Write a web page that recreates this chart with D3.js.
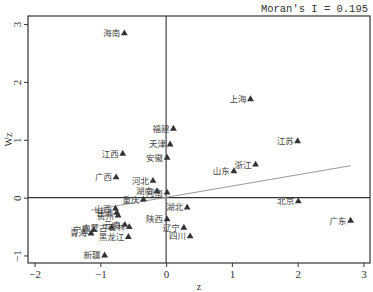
<!DOCTYPE html>
<html>
<head>
<meta charset="utf-8">
<script src="https://cdn.jsdelivr.net/npm/d3@7"></script>
<style>
  body { margin: 0; background: #fff; }
  svg { display: block; }
  .tick text { font-family: "Liberation Serif", serif; font-size: 11px; fill: #333; }
  .lbl { font-family: "Noto Sans CJK SC", sans-serif; font-size: 8.5px; fill: #444; }
</style>
</head>
<body>
<svg width="373" height="292"></svg>
<script>
const svg = d3.select('svg');

// provinces, standardized value z and spatial lag Wz
const names = ['海南','福建','天津','上海','江苏','江西','安徽','广西','河北','湖南','河南',
  '重庆','湖北','陕西','辽宁','四川','山东','浙江','北京','广东','新疆',
  '山西','甘肃','贵州','黑龙江','云南','吉林','内蒙古','宁夏','青海'];
const zVals = [-0.635, 0.111, 0.06, 1.283, 2.0, -0.66, 0.015, -0.76, -0.2, -0.14, 0.015,
  -0.345, 0.32, 0.015, 0.27, 0.365, 1.03, 1.36, 2.01, 2.805, -0.935,
  -0.77, -0.75, -0.73, -0.574, -0.627, -0.56, -0.83, -1.1, -1.14];
const wzVals = [2.84, 1.19, 0.92, 1.70, 0.975, 0.76, 0.69, 0.35, 0.29, 0.11, 0.087,
  -0.035, -0.17, -0.376, -0.52, -0.67, 0.456, 0.57, -0.064, -0.40, -1.0,
  -0.19, -0.26, -0.31, -0.68, -0.47, -0.51, -0.52, -0.56, -0.62];
const moranI = 0.195;
const xTicks = [-2, -1, 0, 1, 2, 3];
const yTicks = [-1, 0, 1, 2, 3];

const data = names.map((n, i) => ({name: n, z: zVals[i], wz: wzVals[i]}));

const pl = 28, pr = 370, pt = 16, pb = 263;
const x = d3.scaleLinear().domain([-2.1, 3.1]).range([pl, pr]);
const y = d3.scaleLinear().domain([-1.13, 3.14]).range([pb, pt]);
const ink = '#333';

// axes
const xaxisG = svg.append('g')
    .attr('transform', 'translate(0,' + pb + ')')
    .call(d3.axisBottom(x).tickValues(xTicks).tickSize(4).tickPadding(3).tickFormat(d3.format('d')));
xaxisG.select('.domain').remove();
xaxisG.selectAll('.tick line').attr('stroke', ink);
xaxisG.selectAll('.tick text').text(d => d < 0 ? '\u2212' + Math.abs(d) : d);

const yaxisG = svg.append('g')
    .attr('transform', 'translate(' + pl + ',0)')
    .call(d3.axisLeft(y).tickValues(yTicks).tickSize(4).tickFormat(d3.format('d')));
yaxisG.select('.domain').remove();
yaxisG.selectAll('.tick line').attr('stroke', ink);
yaxisG.selectAll('.tick text')
    .attr('x', 0).attr('dy', 0)
    .attr('transform', 'translate(-7,0) rotate(-90)')
    .attr('text-anchor', 'middle')
    .text(d => d < 0 ? '\u2212' + Math.abs(d) : d);

// frame
svg.append('rect')
    .attr('x', pl).attr('y', pt)
    .attr('width', pr - pl).attr('height', pb - pt)
    .attr('fill', 'none').attr('stroke', ink).attr('stroke-width', 1.2);

// zero reference lines
svg.append('line')
    .attr('x1', x(0)).attr('x2', x(0)).attr('y1', pt).attr('y2', pb)
    .attr('stroke', ink).attr('stroke-width', 1.1);
svg.append('line')
    .attr('x1', pl).attr('x2', pr).attr('y1', y(0)).attr('y2', y(0))
    .attr('stroke', ink).attr('stroke-width', 1.1);

// fitted line, slope = Moran's I
const zExt = d3.extent(zVals);
svg.append('line')
    .attr('x1', x(zExt[0])).attr('y1', y(moranI * zExt[0] + 0.005))
    .attr('x2', x(zExt[1])).attr('y2', y(moranI * zExt[1] + 0.005))
    .attr('stroke', '#999').attr('stroke-width', 1);

// points
svg.selectAll('path.pt')
    .data(data)
    .enter()
    .append('path')
    .attr('class', 'pt')
    .attr('d', d3.symbol().type(d3.symbolTriangle).size(20))
    .attr('transform', d => 'translate(' + x(d.z) + ',' + y(d.wz) + ')')
    .attr('fill', ink);

svg.selectAll('text.lbl')
    .data(data)
    .enter()
    .append('text')
    .attr('class', 'lbl')
    .attr('x', d => x(d.z) - 4)
    .attr('y', d => y(d.wz) + 3)
    .attr('text-anchor', 'end')
    .text(d => d.name);

// titles
svg.append('text')
    .attr('x', 368).attr('y', 12)
    .attr('text-anchor', 'end')
    .attr('font-family', 'Liberation Mono, monospace')
    .attr('font-size', 10.5)
    .attr('fill', ink)
    .text("Moran's I = " + moranI);

svg.append('text')
    .attr('x', (pl + pr) / 2).attr('y', 290)
    .attr('text-anchor', 'middle')
    .attr('font-family', 'Liberation Serif, serif')
    .attr('font-size', 10)
    .attr('fill', ink)
    .text('z');

svg.append('text')
    .attr('transform', 'translate(12,' + (pt + pb) / 2 + ') rotate(-90)')
    .attr('text-anchor', 'middle')
    .attr('font-family', 'Liberation Serif, serif')
    .attr('font-size', 10)
    .attr('fill', ink)
    .text('Wz');
</script>
</body>
</html>
